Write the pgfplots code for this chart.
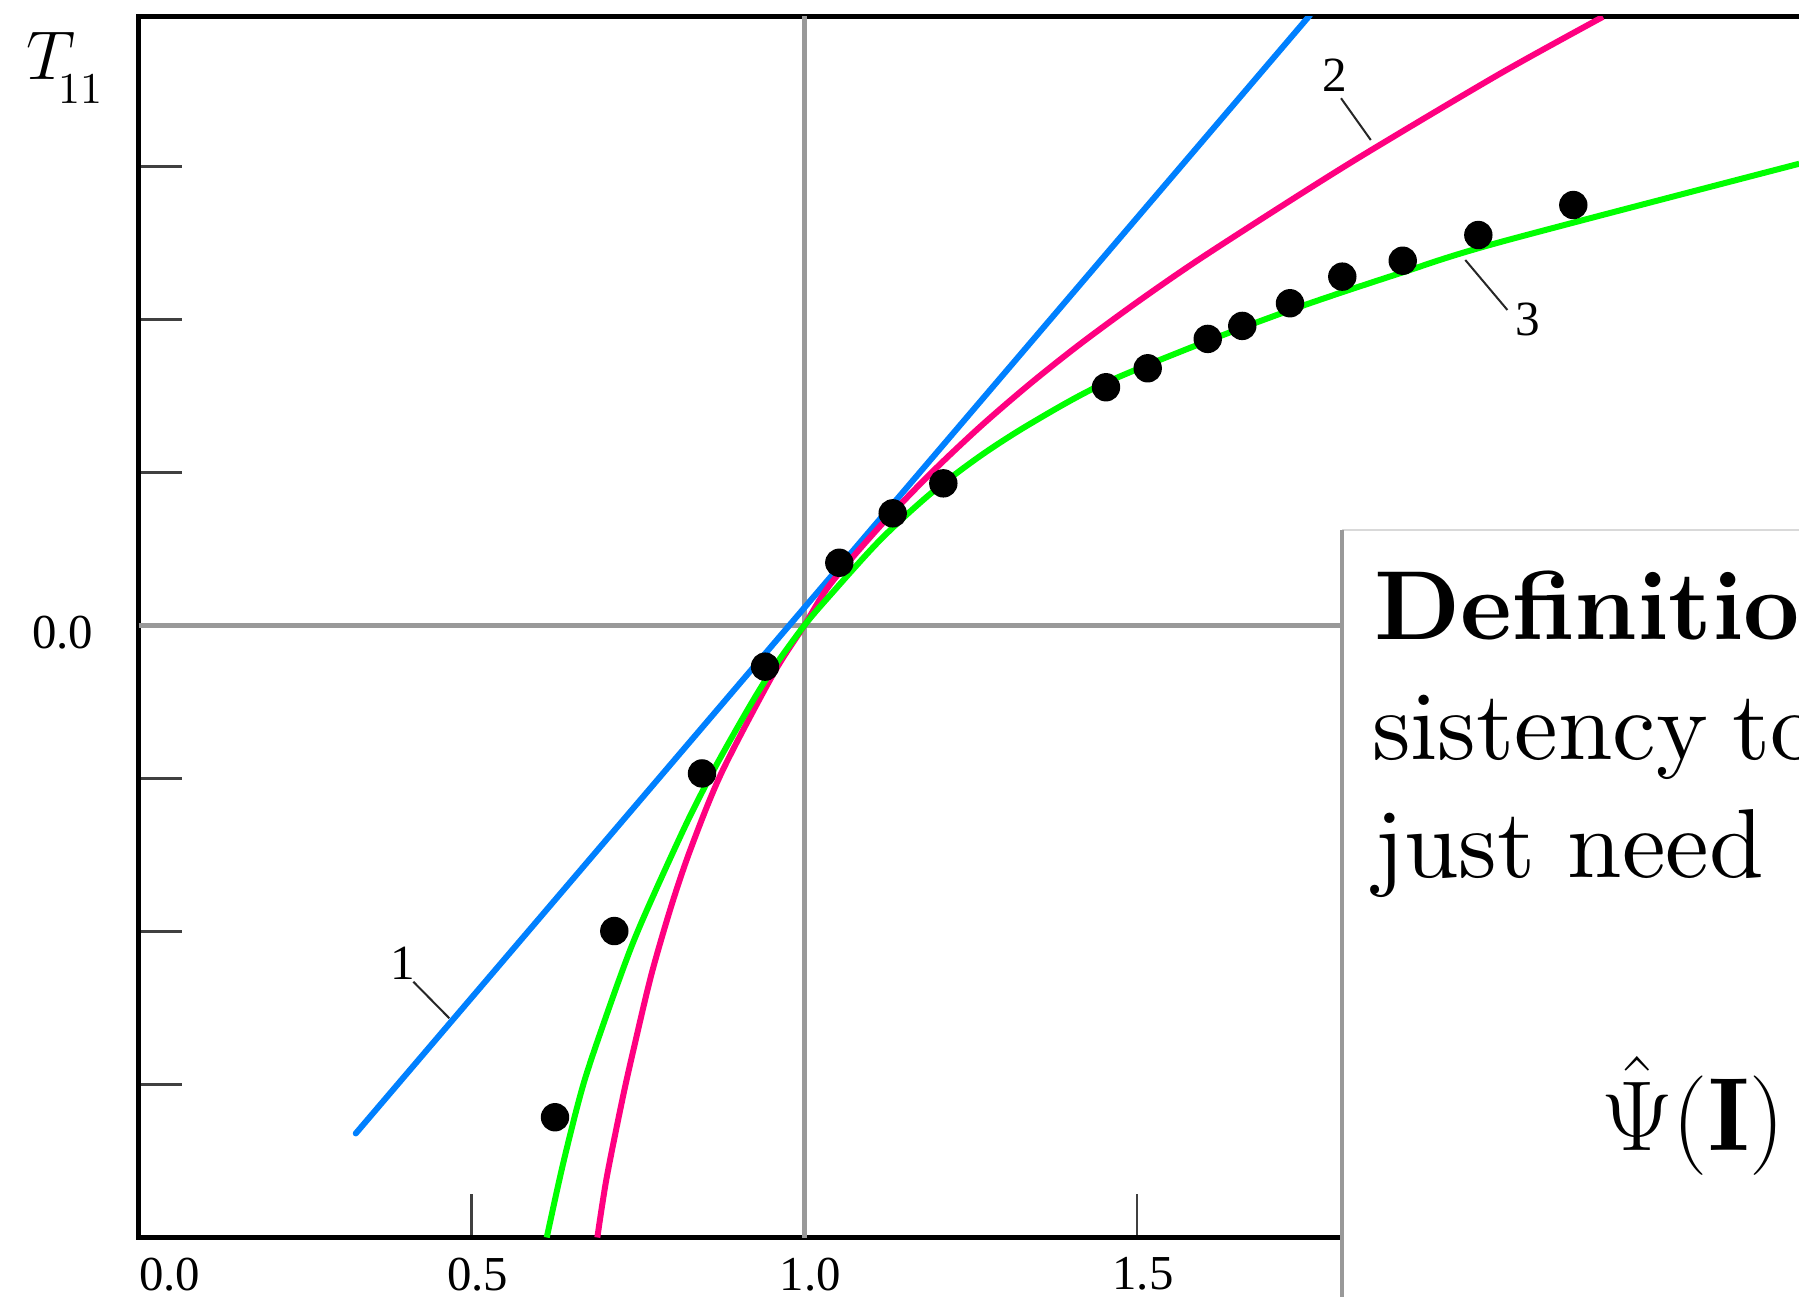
\documentclass[border=0pt]{standalone}
\usepackage{fontspec}
\usepackage{pgfplots}
\pgfplotsset{compat=1.18}
\newfontfamily\libserif{Liberation Serif}
\newfontfamily\cmten{lmroman10-regular}[Extension=.otf, BoldFont=lmroman10-bold]
\definecolor{cblue}{RGB}{0,128,255}
\definecolor{cpink}{RGB}{255,0,128}
\definecolor{cgreen}{RGB}{0,255,0}
\begin{document}
\begin{tikzpicture}
\begin{axis}[
  x=166.375pt, y=38.25pt,
  xmin=0, xmax=2.6, ymin=-4, ymax=3.977,
  axis line style={line width=1.25pt, black},
  xtick={0,0.5,1,1.5,2},
  xticklabels={\hspace*{12.5pt}0.0,0.5,1.0,1.5,2.0},
  ytick={-3,-2,-1,0,1,2,3},
  yticklabels={,,,0.0,,,},
  tick pos=left,
  tick align=inside,
  major tick length=10.9pt,
  tick style={line width=0.6pt, black!75},
  xticklabel style={font=\fontsize{12.2}{14}\libserif, yshift=-1.5pt, xshift=1.5pt},
  yticklabel style={font=\fontsize{12.2}{14}\libserif, xshift=-7.9pt, yshift=-1.9pt},
]
\coordinate (O) at (axis cs:0,0);
% reference lines
\addplot[black!40, line width=1.25pt] coordinates {(1,-4) (1,4)};
\addplot[black!40, line width=1.25pt] coordinates {(0,0) (2.6,0)};
% data points
\addplot[only marks, mark=*, mark size=3.35pt, black] coordinates {
(0.6254,-3.214) (0.7145,-1.997) (0.8463,-0.967) (0.9410,-0.269) (1.0526,0.410)
(1.1328,0.733) (1.2089,0.929) (1.4533,1.557) (1.5160,1.681) (1.6062,1.873)
(1.6581,1.958) (1.7298,2.106) (1.8084,2.280) (1.8992,2.384) (2.0128,2.552) (2.1555,2.748)};
% 1: straight line
\addplot[cblue, line width=1.5pt, line cap=round] coordinates {(0.326,-3.320) (1.76,3.99)};
% 2
\addplot[cpink, line width=1.5pt, smooth] coordinates {
(0.689,-4.0) (0.703,-3.61) (0.727,-3.09) (0.744,-2.76) (0.770,-2.285) (0.800,-1.835)
(0.830,-1.451) (0.876,-0.959) (0.953,-0.32) (1.0,0) (1.039,0.27) (1.114,0.65)
(1.189,0.99) (1.264,1.298) (1.339,1.579) (1.414,1.838) (1.500,2.113) (1.595,2.398)
(1.745,2.818) (1.853,3.110) (2.046,3.608) (2.2,3.978)};
% 3
\addplot[cgreen, line width=1.5pt, smooth] coordinates {
(0.613,-4.0) (0.638,-3.509) (0.668,-2.999) (0.703,-2.544) (0.738,-2.124) (0.768,-1.815)
(0.823,-1.293) (0.866,-0.927) (0.918,-0.527) (0.953,-0.282) (1.0,0) (1.039,0.199)
(1.114,0.559) (1.189,0.859) (1.264,1.107) (1.339,1.317) (1.444,1.569) (1.595,1.841)
(1.745,2.084) (1.895,2.302) (2.045,2.505) (2.495,3.018)};
% labels
\draw[line width=0.5pt, black!85] (axis cs:0.4125,-2.328) -- (axis cs:0.4666,-2.567);
\node[font=\fontsize{12.3}{15}\libserif] at (axis cs:0.3974,-2.208) {1};
\draw[line width=0.5pt, black!85] (axis cs:1.8065,3.446) -- (axis cs:1.8512,3.173);
\node[font=\fontsize{12.3}{15}\libserif] at (axis cs:1.7965,3.598) {2};
\draw[line width=0.5pt, black!85] (axis cs:1.9932,2.389) -- (axis cs:2.0565,2.062);
\node[font=\fontsize{12.3}{15}\libserif] at (axis cs:2.0864,1.997) {3};
\end{axis}
\pgfresetboundingbox
\useasboundingbox ([shift={(-34.7pt,-167.625pt)}]O) rectangle ([shift={(415.05pt,156.375pt)}]O);
\node[anchor=base west, inner sep=0] at ([shift={(-28.2pt,136.4pt)}]O)
  {{\fontsize{17}{20}\selectfont$T$}\kern-4.4pt\raisebox{-5.8pt}{\fontsize{11}{13}\cmten 11}};
% overlay box
\fill[white] ([shift={(300.8pt,23.9pt)}]O) rectangle ([shift={(440pt,-190pt)}]O);
\draw[black!15, line width=0.6pt] ([shift={(300.8pt,23.9pt)}]O) -- ([shift={(440pt,23.9pt)}]O);
\draw[black!40, line width=1pt] ([shift={(300.8pt,23.9pt)}]O) -- ([shift={(300.8pt,-190pt)}]O);
\node[anchor=base west, inner sep=0, font=\fontsize{24.5}{29}\cmten\bfseries] at ([shift={(308.6pt,-3.4pt)}]O) {Definition};
\node[anchor=base west, inner sep=0, font=\fontsize{24.5}{29}\cmten] at ([shift={(308.1pt,-33.5pt)}]O) {sistency\hspace{0.25em}to};
\node[anchor=base west, inner sep=0, font=\fontsize{24.5}{29}\cmten] at ([shift={(308.6pt,-63pt)}]O) {just need};
\node[anchor=base west, inner sep=0, font=\fontsize{26}{30}\selectfont] at ([shift={(365.4pt,-131.3pt)}]O) {$\hat{\Psi}(\mathbf{I}) = 0$};
\end{tikzpicture}
\end{document}
